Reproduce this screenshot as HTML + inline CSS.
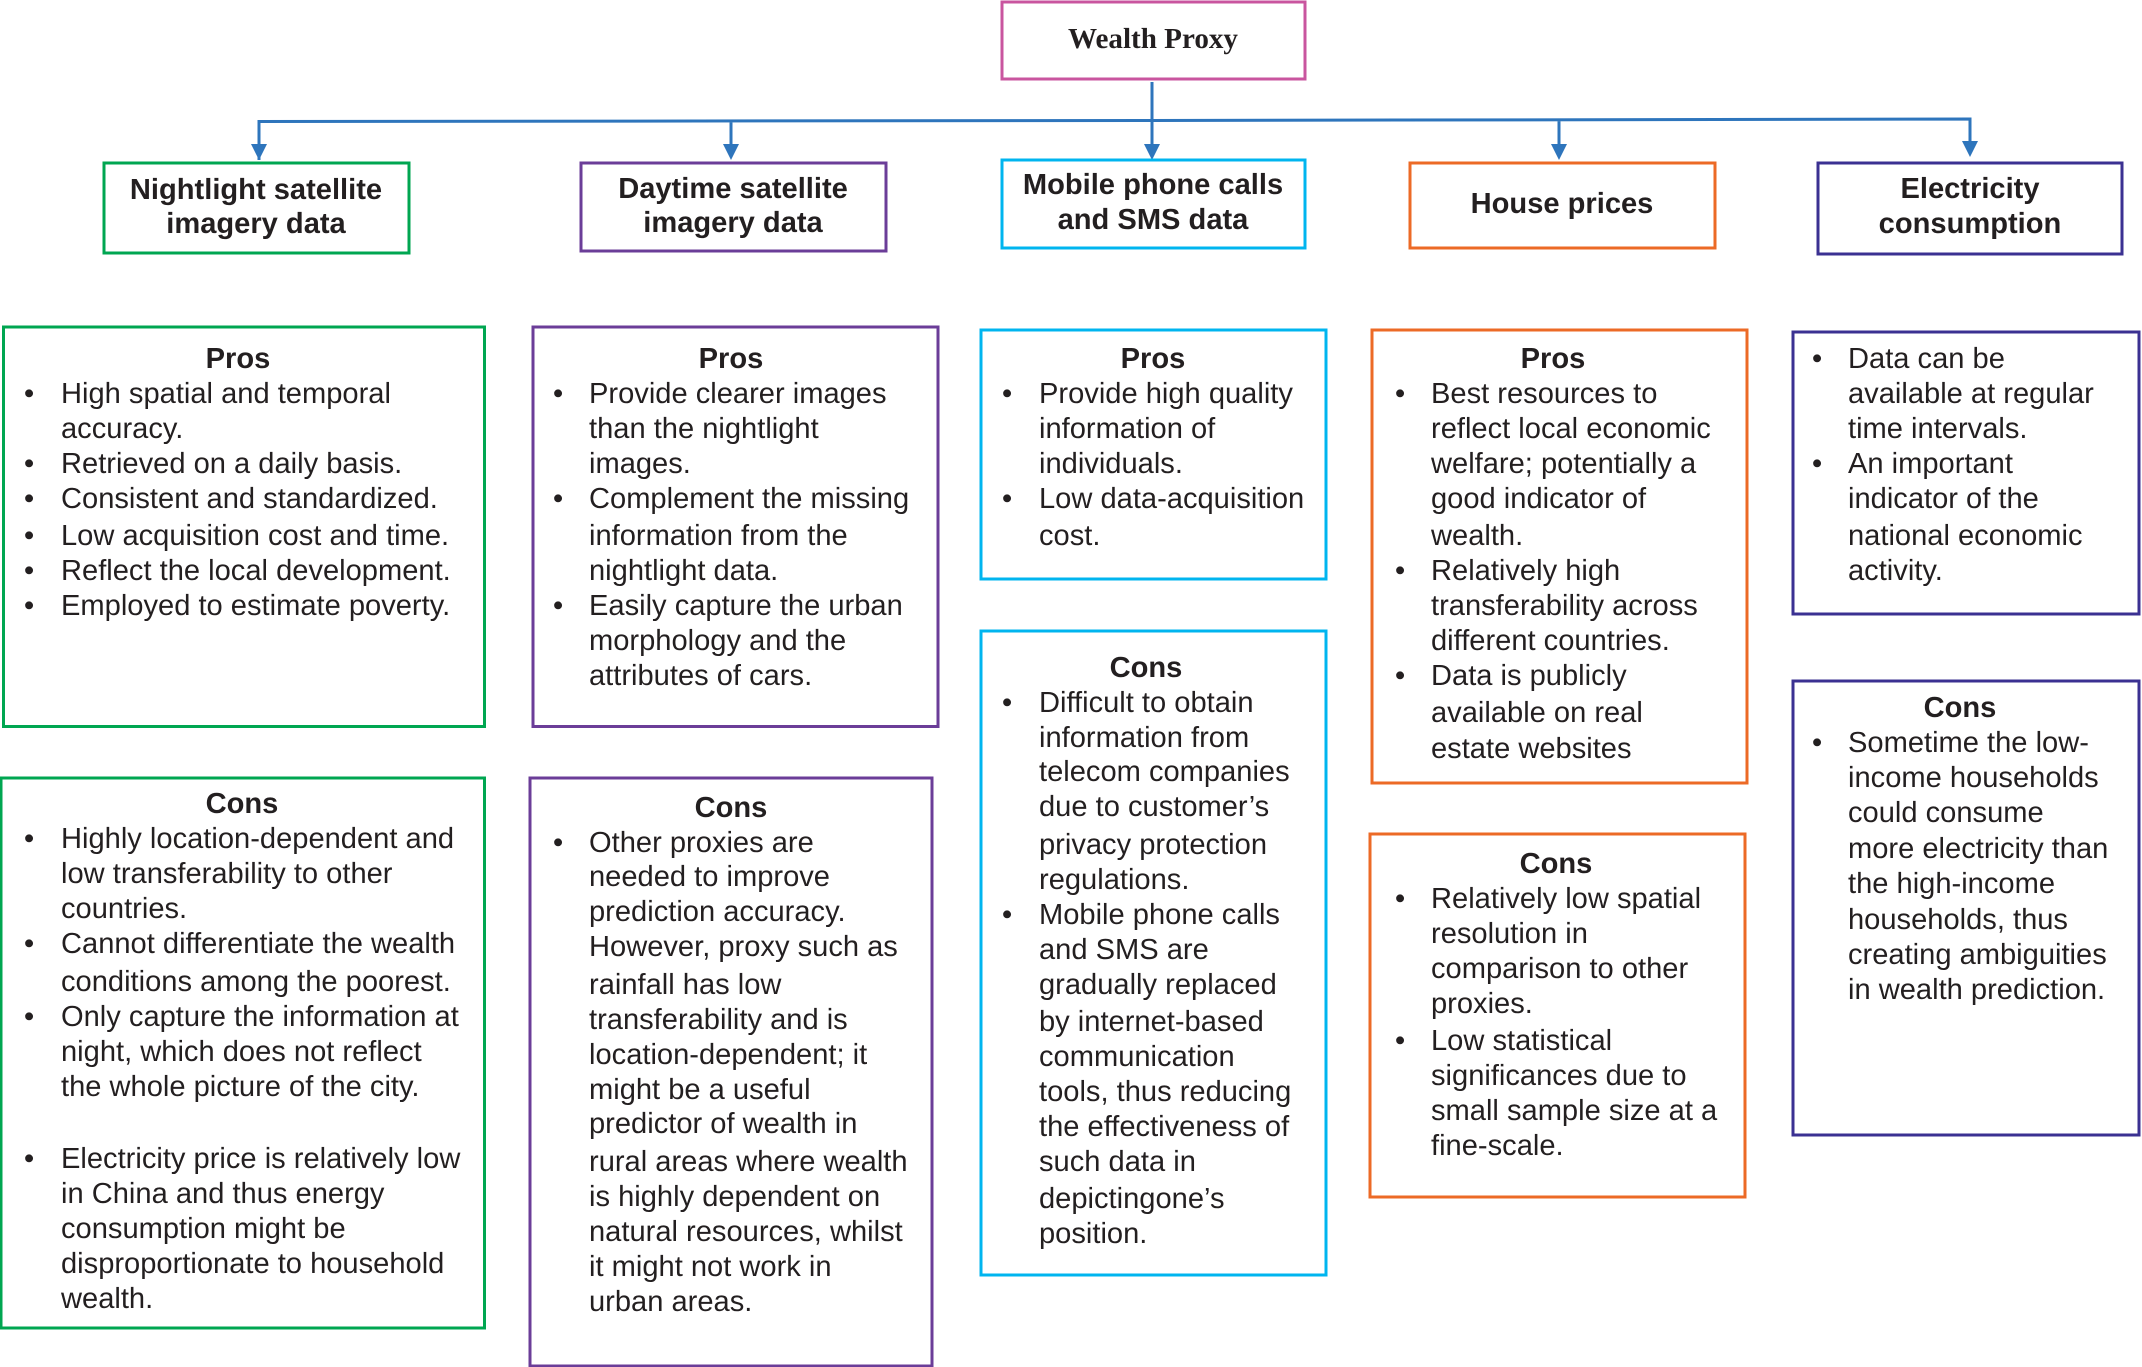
<!DOCTYPE html>
<html lang="en"><head><meta charset="utf-8"><title>Wealth Proxy</title>
<style>
html,body{margin:0;padding:0;background:#fff;width:2142px;height:1367px;overflow:hidden}
svg{display:block}
text{font-family:"Liberation Sans",Arial,sans-serif;font-size:29.1px;fill:#231f20;text-rendering:geometricPrecision}
.b{font-weight:bold}
.m{text-anchor:middle}
rect{fill:none;stroke-width:3}
.g{stroke:#00a651}.p{stroke:#6b3d98}.c{stroke:#00b5ef}.o{stroke:#ec6a26}.i{stroke:#3b3192}.k{stroke:#c9559f}
</style></head><body>
<svg width="2142" height="1367" viewBox="0 0 2142 1367" xmlns="http://www.w3.org/2000/svg">
<rect class="k" x="1002" y="2" width="303" height="77"/>
<path d="M1152 82V146M259 160V121.500L1152 120.500L1970 119V143M731 121V146M1559 120V146" fill="none" stroke="#2e75bc" stroke-width="3"/>
<g fill="#2e75bc"><path d="M251 144h16l-8 16zM723 144h16l-8 16zM1144 144h16l-8 16zM1551 144h16l-8 16zM1962 141h16l-8 16z"/></g>
<rect class="g" x="104" y="163" width="305" height="90"/>
<rect class="p" x="581" y="163" width="305" height="88"/>
<rect class="c" x="1002" y="160" width="303" height="88"/>
<rect class="o" x="1410" y="163" width="305" height="85"/>
<rect class="i" x="1818" y="163" width="304" height="91"/>
<rect class="g" x="3.500" y="327" width="481" height="399.500"/>
<rect class="p" x="533" y="327" width="405" height="399.500"/>
<rect class="c" x="981" y="330" width="345" height="249"/>
<rect class="o" x="1372" y="330" width="375" height="453"/>
<rect class="i" x="1793" y="332" width="346" height="282"/>
<rect class="g" x="1" y="778" width="483.500" height="550"/>
<rect class="p" x="530" y="778" width="402" height="588"/>
<rect class="c" x="981" y="631" width="345" height="644"/>
<rect class="o" x="1370" y="834" width="375" height="363"/>
<rect class="i" x="1793" y="681" width="346" height="454"/>
<text class="b m" x="1153" y="48" style="font-family:'Liberation Serif',serif">Wealth Proxy</text>
<g class="b m">
<text x="256" y="199" class="b m">Nightlight satellite</text><text x="256" y="233" class="b m">imagery data</text>
<text x="733" y="198" class="b m">Daytime satellite</text><text x="733" y="232" class="b m">imagery data</text>
<text x="1153" y="194" class="b m">Mobile phone calls</text><text x="1153" y="229" class="b m">and SMS data</text>
<text x="1562" y="213" class="b m">House prices</text>
<text x="1970" y="198" class="b m">Electricity</text><text x="1970" y="233" class="b m">consumption</text>
<text x="238" y="368" class="b m">Pros</text><text x="731" y="368" class="b m">Pros</text><text x="1153" y="368" class="b m">Pros</text><text x="1553" y="368" class="b m">Pros</text>
<text x="242" y="813" class="b m">Cons</text><text x="731" y="817" class="b m">Cons</text><text x="1146" y="677" class="b m">Cons</text><text x="1556" y="873" class="b m">Cons</text><text x="1960" y="717" class="b m">Cons</text>
</g>
<g>
<text x="24" y="403">•</text><text x="61" y="403">High spatial and temporal</text>
<text x="61" y="438">accuracy.</text>
<text x="24" y="473">•</text><text x="61" y="473">Retrieved on a daily basis.</text>
<text x="24" y="508">•</text><text x="61" y="508">Consistent and standardized.</text>
<text x="24" y="545">•</text><text x="61" y="545">Low acquisition cost and time.</text>
<text x="24" y="580">•</text><text x="61" y="580">Reflect the local development.</text>
<text x="24" y="615">•</text><text x="61" y="615">Employed to estimate poverty.</text>

<text x="24" y="848">•</text><text x="61" y="848">Highly location-dependent and</text>
<text x="61" y="883">low transferability to other</text>
<text x="61" y="918">countries.</text>
<text x="24" y="953">•</text><text x="61" y="953">Cannot differentiate the wealth</text>
<text x="61" y="991">conditions among the poorest.</text>
<text x="24" y="1026">•</text><text x="61" y="1026">Only capture the information at</text>
<text x="61" y="1061">night, which does not reflect</text>
<text x="61" y="1096">the whole picture of the city.</text>
<text x="24" y="1168">•</text><text x="61" y="1168">Electricity price is relatively low</text>
<text x="61" y="1203">in China and thus energy</text>
<text x="61" y="1238">consumption might be</text>
<text x="61" y="1273">disproportionate to household</text>
<text x="61" y="1308">wealth.</text>

<text x="553" y="403">•</text><text x="589" y="403">Provide clearer images</text>
<text x="589" y="438">than the nightlight</text>
<text x="589" y="473">images.</text>
<text x="553" y="508">•</text><text x="589" y="508">Complement the missing</text>
<text x="589" y="545">information from the</text>
<text x="589" y="580">nightlight data.</text>
<text x="553" y="615">•</text><text x="589" y="615">Easily capture the urban</text>
<text x="589" y="650">morphology and the</text>
<text x="589" y="685">attributes of cars.</text>

<text x="553" y="852">•</text><text x="589" y="852">Other proxies are</text>
<text x="589" y="886">needed to improve</text>
<text x="589" y="921">prediction accuracy.</text>
<text x="589" y="956">However, proxy such as</text>
<text x="589" y="994">rainfall has low</text>
<text x="589" y="1029">transferability and is</text>
<text x="589" y="1064">location-dependent; it</text>
<text x="589" y="1099">might be a useful</text>
<text x="589" y="1133">predictor of wealth in</text>
<text x="589" y="1171">rural areas where wealth</text>
<text x="589" y="1206">is highly dependent on</text>
<text x="589" y="1241">natural resources, whilst</text>
<text x="589" y="1276">it might not work in</text>
<text x="589" y="1311">urban areas.</text>

<text x="1002" y="403">•</text><text x="1039" y="403">Provide high quality</text>
<text x="1039" y="438">information of</text>
<text x="1039" y="473">individuals.</text>
<text x="1002" y="508">•</text><text x="1039" y="508">Low data-acquisition</text>
<text x="1039" y="545">cost.</text>

<text x="1002" y="712">•</text><text x="1039" y="712">Difficult to obtain</text>
<text x="1039" y="747">information from</text>
<text x="1039" y="781">telecom companies</text>
<text x="1039" y="816">due to customer’s</text>
<text x="1039" y="854">privacy protection</text>
<text x="1039" y="889">regulations.</text>
<text x="1002" y="924">•</text><text x="1039" y="924">Mobile phone calls</text>
<text x="1039" y="959">and SMS are</text>
<text x="1039" y="994">gradually replaced</text>
<text x="1039" y="1031">by internet-based</text>
<text x="1039" y="1066">communication</text>
<text x="1039" y="1101">tools, thus reducing</text>
<text x="1039" y="1136">the effectiveness of</text>
<text x="1039" y="1171">such data in</text>
<text x="1039" y="1208">depictingone’s</text>
<text x="1039" y="1243">position.</text>

<text x="1395" y="403">•</text><text x="1431" y="403">Best resources to</text>
<text x="1431" y="438">reflect local economic</text>
<text x="1431" y="473">welfare; potentially a</text>
<text x="1431" y="508">good indicator of</text>
<text x="1431" y="545">wealth.</text>
<text x="1395" y="580">•</text><text x="1431" y="580">Relatively high</text>
<text x="1431" y="615">transferability across</text>
<text x="1431" y="650">different countries.</text>
<text x="1395" y="685">•</text><text x="1431" y="685">Data is publicly</text>
<text x="1431" y="722">available on real</text>
<text x="1431" y="758">estate websites</text>

<text x="1395" y="908">•</text><text x="1431" y="908">Relatively low spatial</text>
<text x="1431" y="943">resolution in</text>
<text x="1431" y="978">comparison to other</text>
<text x="1431" y="1013">proxies.</text>
<text x="1395" y="1050">•</text><text x="1431" y="1050">Low statistical</text>
<text x="1431" y="1085">significances due to</text>
<text x="1431" y="1120">small sample size at a</text>
<text x="1431" y="1155">fine-scale.</text>

<text x="1812" y="368">•</text><text x="1848" y="368">Data can be</text>
<text x="1848" y="403">available at regular</text>
<text x="1848" y="438">time intervals.</text>
<text x="1812" y="473">•</text><text x="1848" y="473">An important</text>
<text x="1848" y="508">indicator of the</text>
<text x="1848" y="545">national economic</text>
<text x="1848" y="580">activity.</text>

<text x="1812" y="752">•</text><text x="1848" y="752">Sometime the low-</text>
<text x="1848" y="787">income households</text>
<text x="1848" y="822">could consume</text>
<text x="1848" y="858">more electricity than</text>
<text x="1848" y="893">the high-income</text>
<text x="1848" y="929">households, thus</text>
<text x="1848" y="964">creating ambiguities</text>
<text x="1848" y="999">in wealth prediction.</text>
</g>
</svg>
</body></html>
